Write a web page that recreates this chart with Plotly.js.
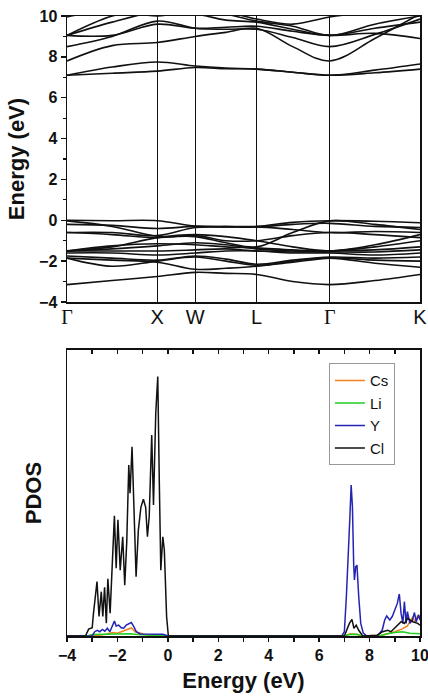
<!DOCTYPE html>
<html>
<head>
<meta charset="utf-8">
<script src="https://cdn.plot.ly/plotly-3.0.1.min.js"></script>
<style>html,body{margin:0;padding:0;background:#fff;}#chart{width:428px;height:700px;}</style>
</head>
<body>
<div id="chart"></div>
<script>
// ---- Band structure data ----
const kLabelPos = [0, 1.0, 1.42, 2.1, 2.91, 3.91];
const kLabels = ['<span style="font-family:Liberation Serif,DejaVu Serif,serif">Γ</span>', 'X', 'W', 'L', '<span style="font-family:Liberation Serif,DejaVu Serif,serif">Γ</span>', 'K'];
const kPath = [0, 0.5, 1.0, 1.42, 1.76, 2.1, 2.5, 2.91, 3.41, 3.91];

const condBands = [
  [7.1, 7.2, 7.3, 7.48, 7.42, 7.4, 7.25, 7.1, 7.22, 7.4],
  [7.1, 7.5, 7.75, 7.55, 7.45, 7.4, 7.25, 7.1, 7.35, 7.65],
  [7.8, 8.55, 8.7, 9.0, 9.2, 9.4, 8.5, 7.8, 8.9, 10.1],
  [8.5, 9.0, 9.75, 9.4, 9.35, 9.35, 8.95, 8.5, 9.1, 9.85],
  [9.05, 9.05, 9.6, 9.4, 9.45, 9.5, 9.25, 9.05, 9.15, 8.9],
  [9.05, 9.7, 10.2, 10.1, 9.8, 9.7, 9.35, 9.05, 9.4, 9.7],
  [9.05, 10.0, 10.4, 10.4, 10.1, 9.75, 9.5, 9.05, 9.6, 10.0],
  [9.95, 10.3, 10.0, 10.3, 10.2, 9.85, 9.6, 9.95, 10.2, 10.3]
];
const valBands = [
  [0.0, -0.02, -0.02, -0.28, -0.3, -0.3, -0.1, -0.02, -0.05, -0.12],
  [-0.03, -0.3, -0.78, -0.8, -1.1, -1.3, -0.6, -0.03, -0.2, -0.45],
  [-0.2, -0.25, -0.4, -0.3, -0.32, -0.33, -0.2, -0.15, -0.3, -0.35],
  [-0.6, -0.6, -0.75, -0.35, -0.33, -0.32, -0.45, -0.6, -0.55, -0.6],
  [-0.6, -0.7, -0.85, -0.75, -1.0, -1.0, -0.75, -0.6, -0.7, -0.85],
  [-1.5, -1.3, -0.85, -0.7, -0.8, -1.0, -1.3, -1.5, -1.2, -0.7],
  [-1.5, -1.25, -1.15, -1.2, -1.3, -1.35, -1.45, -1.5, -1.3, -1.0],
  [-1.5, -1.4, -1.25, -1.1, -1.2, -1.4, -1.5, -1.5, -1.45, -1.3],
  [-1.5, -1.5, -1.5, -1.45, -1.4, -1.5, -1.55, -1.55, -1.55, -1.45],
  [-1.6, -1.6, -1.7, -1.6, -1.5, -1.5, -1.6, -1.6, -1.7, -1.6],
  [-1.75, -1.85, -1.95, -1.75, -1.9, -2.15, -1.95, -1.8, -1.85, -1.8],
  [-1.85, -2.25, -2.0, -1.8, -2.0, -2.2, -2.05, -1.85, -1.95, -2.0],
  [-1.85, -1.95, -2.05, -2.4, -2.35, -2.25, -2.0, -1.85, -2.1, -2.3],
  [-3.15, -2.95, -2.75, -2.55, -2.6, -2.65, -3.0, -3.15, -2.95, -2.65]
];

// ---- PDOS data ----
const clE = [-4, -3.27, -3.14, -3.0, -2.95, -2.81, -2.73, -2.64, -2.58, -2.51, -2.44, -2.38, -2.29, -2.25, -2.12, -2.05, -1.98, -1.89, -1.79, -1.71, -1.63, -1.55, -1.5, -1.42, -1.34, -1.26, -1.17, -1.07, -0.97, -0.88, -0.81, -0.74, -0.64, -0.57, -0.48, -0.40, -0.34, -0.28, -0.2, -0.14, -0.05, 0.02, 7.0, 7.07, 7.2, 7.3, 7.38, 7.47, 7.57, 7.73, 8.3, 8.52, 8.72, 8.85, 9.05, 9.25, 9.38, 9.51, 9.71, 9.91, 10];
const clV = [0, 0, 2.4, 2.9, 7.9, 19, 6.8, 15.5, 6.8, 17, 4.5, 20, 8, 15, 42, 23.7, 40.6, 23, 34.7, 17.8, 33, 59.8, 49.9, 66.2, 39.4, 20.7, 37, 45, 47.8, 45, 34.7, 41.7, 70.3, 45.8, 77.9, 90.7, 54.5, 23, 34.7, 30, 6.8, 0, 0, 1.5, 4.4, 5.8, 2.7, 3.8, 2, 0, 0.3, 1.5, 2, 1.5, 3.2, 5, 4.4, 6.2, 5, 4.4, 3.8];
const yE = [-4, -3.2, -3.0, -2.9, -2.8, -2.7, -2.6, -2.5, -2.4, -2.3, -2.2, -2.12, -2.05, -1.95, -1.85, -1.75, -1.65, -1.55, -1.45, -1.35, -1.25, -1.1, -1.0, -0.8, -0.6, -0.4, -0.2, -0.05, 0, 6.9, 7.0, 7.08, 7.15, 7.22, 7.27, 7.32, 7.37, 7.4, 7.45, 7.5, 7.57, 7.65, 7.75, 7.9, 8.3, 8.5, 8.6, 8.68, 8.8, 8.9, 9.0, 9.1, 9.18, 9.25, 9.32, 9.38, 9.45, 9.5, 9.6, 9.7, 9.78, 9.85, 9.95, 10];
const yV = [0, 0, 0, 1.5, 2, 1.5, 2.3, 1.7, 2.7, 1.5, 3.3, 5.2, 3.5, 3.8, 2.9, 2.7, 3.8, 4.4, 4.7, 3.3, 1.5, 0.7, 0.7, 0.6, 0.7, 0.6, 0.6, 0.2, 0, 0, 1.5, 13.8, 25.4, 41.7, 52.8, 45.2, 25, 19.6, 24.2, 24.8, 13.8, 4.4, 1, 0, 0, 2, 5.6, 7, 5.6, 6.8, 9.1, 11.4, 14.7, 7.9, 4.4, 12, 4.4, 8.5, 4.4, 5.6, 8.2, 5, 7.4, 5.6];
const csE = [-4, -3.0, -2.5, -2.2, -2.0, -1.8, -1.6, -1.45, -1.3, -1.1, -0.9, -0.5, 0, 7.0, 7.25, 7.5, 7.7, 8.5, 9.0, 9.3, 9.5, 9.7, 9.8, 9.9, 10];
const csV = [0, 0, 0.5, 1.2, 1.0, 1.6, 2.2, 2.8, 1.5, 1.0, 0.5, 0.3, 0, 0, 0.8, 0.5, 0, 0.3, 1.5, 2.5, 3.5, 6.5, 5, 7, 6];
const liE = [-4, -3.2, -3.0, -2.5, -2.1, -1.8, -1.5, -1.2, -0.8, -0.3, 0, 7.0, 7.2, 7.5, 7.7, 8.4, 8.7, 9.0, 9.3, 9.6, 10];
const liV = [0, 0, 0.5, 0.6, 0.9, 0.7, 0.8, 0.5, 0.3, 0.2, 0, 0, 0.5, 0.6, 0, 0, 0.8, 1.2, 1.5, 1.0, 0.8];
const pdosNames = ['Cs', 'Li', 'Y', 'Cl'];
const pdosColors = ['#f0821e', '#1fcf1f', '#2424b4', '#111111'];

const traces = [];
condBands.concat(valBands).forEach(b => {
  traces.push({x: kPath, y: b, type: 'scatter', mode: 'lines', xaxis: 'x', yaxis: 'y',
    line: {color: '#111', width: 1.6, shape: 'spline', smoothing: 1}, showlegend: false, hoverinfo: 'skip'});
});
const pdosE = [csE, liE, yE, clE];
const pdosV = [csV, liV, yV, clV];
pdosNames.forEach((n, i) => {
  traces.push({x: pdosE[i], y: pdosV[i], name: n, type: 'scatter', mode: 'lines', xaxis: 'x2', yaxis: 'y2',
    line: {color: pdosColors[i], width: 1.5}});
});
// empty helper trace so that the top tick axis of the PDOS panel is drawn
traces.push({x: [], y: [], type: 'scatter', mode: 'lines', xaxis: 'x3', yaxis: 'y2', showlegend: false, hoverinfo: 'skip'});

const tickFont = {family: 'Liberation Sans, Arial', size: 16, color: '#111', weight: 'bold'};
const titleFont = {family: 'Liberation Sans, Arial', size: 22, color: '#111', weight: 'bold'};

const layout = {
  width: 428, height: 700,
  margin: {l: 67, r: 8, t: 16, b: 64},
  paper_bgcolor: '#fff', plot_bgcolor: '#fff',
  showlegend: true,
  legend: {x: 0.742, y: 0.44, xanchor: 'left', yanchor: 'top',
    bordercolor: '#999', borderwidth: 1, bgcolor: '#fff',
    font: {family: 'Liberation Sans, Arial', size: 15, color: '#111'},
    tracegroupgap: 0, itemwidth: 30},
  xaxis: {domain: [0, 1], anchor: 'y', range: [0, 3.91], tickvals: kLabelPos, ticktext: kLabels,
    showgrid: true, gridcolor: '#111', gridwidth: 1.4, ticks: '', zeroline: false,
    showline: true, linecolor: '#111', linewidth: 1.5, mirror: true, ticklabeloverflow: 'allow',
    ticklabelstandoff: -4,
    tickfont: {family: 'Liberation Sans, Arial', size: 20, color: '#111'}},
  yaxis: {domain: [0.5387, 1], anchor: 'x', range: [-4, 10], dtick: 2, tick0: 0,
    ticks: 'outside', ticklen: 5, tickwidth: 1.5, tickcolor: '#111',
    minor: {dtick: 1, ticks: 'outside', ticklen: 3, tickwidth: 1.2, tickcolor: '#111'},
    showgrid: false, zeroline: false, showline: true, linecolor: '#111', linewidth: 1.5, mirror: true,
    tickfont: tickFont,
    title: {text: 'Energy (eV)', font: titleFont, standoff: 8}},
  xaxis2: {domain: [0, 1], anchor: 'y2', range: [-4, 10], dtick: 2, tick0: 0,
    ticks: 'outside', ticklen: 4, tickwidth: 1.5, tickcolor: '#111',
    minor: {dtick: 1, ticks: 'outside', ticklen: 4, tickwidth: 1.5, tickcolor: '#111'},
    showgrid: false, zeroline: false, showline: true, linecolor: '#111', linewidth: 1.5, mirror: true,
    ticklabeloverflow: 'allow',
    tickfont: tickFont,
    title: {text: 'Energy (eV)', font: titleFont, standoff: 10}},
  xaxis3: {overlaying: 'x2', anchor: 'y2', side: 'top', range: [-4, 10], dtick: 2, tick0: 0,
    ticks: 'inside', ticklen: 4, tickwidth: 1.5, tickcolor: '#111',
    minor: {dtick: 1, ticks: 'inside', ticklen: 4, tickwidth: 1.5, tickcolor: '#111'},
    showticklabels: false, showgrid: false, zeroline: false, showline: false},
  yaxis2: {domain: [0, 0.4613], anchor: 'x2', range: [0, 100], showticklabels: false, ticks: '',
    showgrid: false, zeroline: false, showline: true, linecolor: '#111', linewidth: 1.5, mirror: true,
    title: {text: 'PDOS', font: titleFont, standoff: 18}}
};

Plotly.newPlot('chart', traces, layout, {displayModeBar: false, staticPlot: true});
</script>
</body>
</html>
